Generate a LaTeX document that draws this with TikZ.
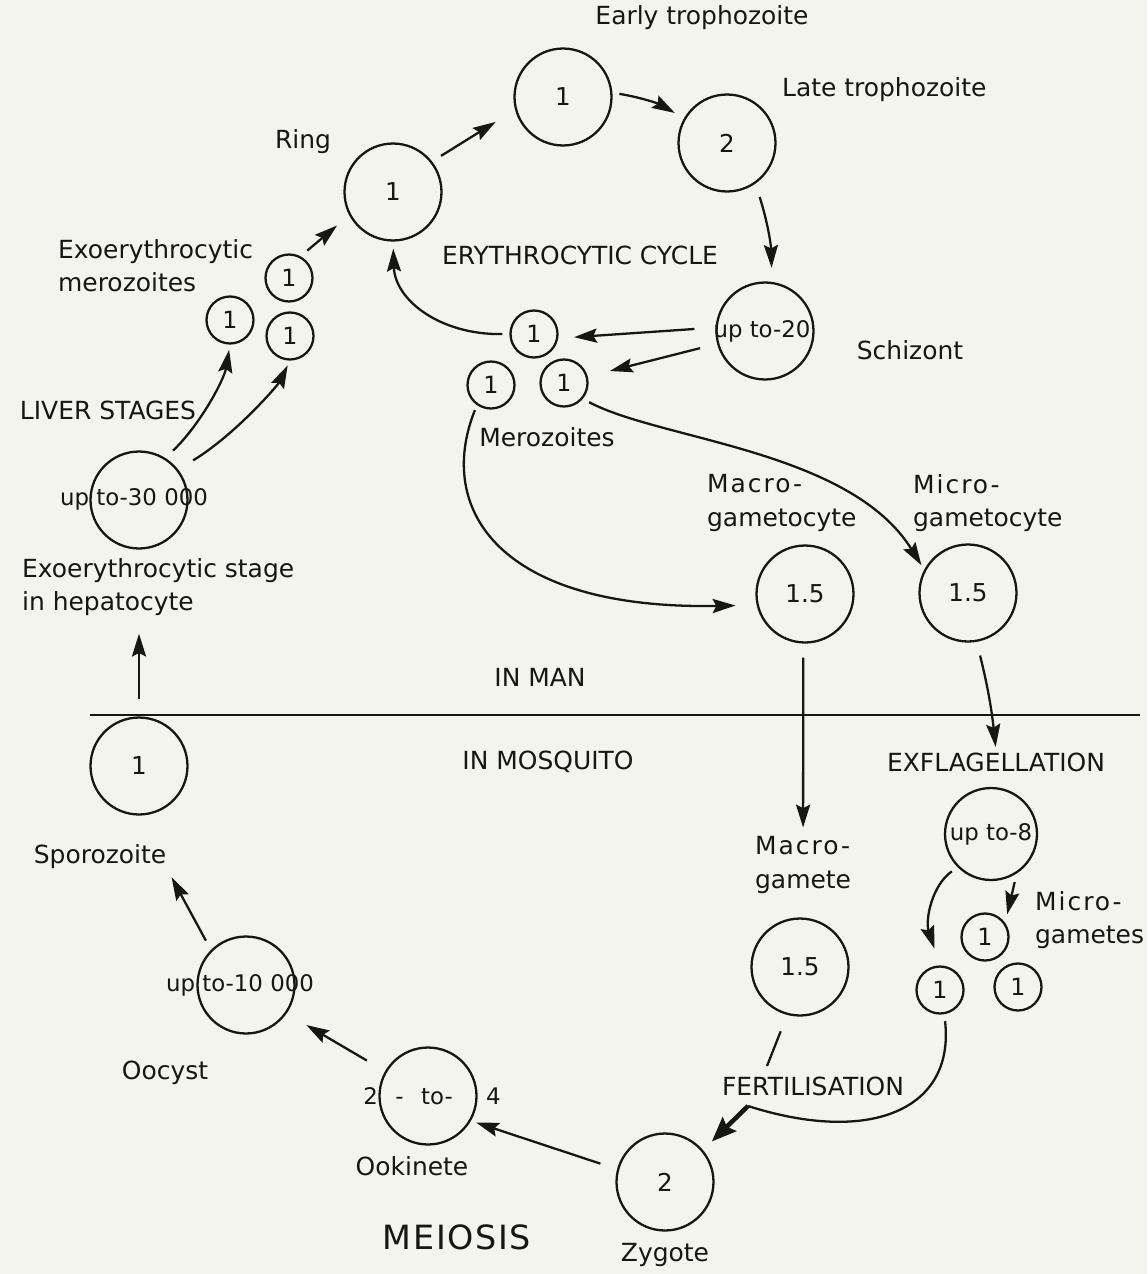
\documentclass[tikz,border=0pt]{standalone}
\usepackage{fontspec}
\setmainfont{DejaVu Sans}
\usepackage{xcolor}
\usetikzlibrary{arrows.meta,positioning,calc}
\definecolor{paper}{RGB}{243,244,238}
\definecolor{ink}{RGB}{22,22,18}
\newcommand{\tracked}[1]{{\addfontfeatures{LetterSpace=8}#1}}

\begin{document}
\begin{tikzpicture}[x=0.02cm, y=-0.02cm,
    cell/.style={circle, draw=ink, line width=1.3pt, minimum size=1.94cm, inner sep=0pt, text=ink, font=\fontsize{14}{16}\selectfont},
    small/.style={circle, draw=ink, line width=1.3pt, minimum size=0.94cm, inner sep=0pt, text=ink, font=\fontsize{13.5}{15}\selectfont},
    count/.style={inner sep=0pt, text=ink, font=\fontsize{13}{15}\selectfont},
    stage/.style={inner sep=1pt, text=ink, align=left, font=\fontsize{14.2}{19}\selectfont},
    arrow/.style={-{Stealth[length=13pt, width=8pt, inset=2pt]}, line width=1.3pt, draw=ink},
    plain/.style={line width=1.3pt, draw=ink}
]
    % paper
    \fill[paper] (0,0) rectangle (1147,1274);

    % Erythrocytic cycle
    \node[cell] (ring) at (393,192) {1};
    \node[cell] (early) at (563,97) {1};
    \node[cell] (late) at (727,143) {2};
    \node[cell] (schiz) at (765,331) {};
    \node[count] (schizN) at (762,331) {up to-20};
    \node[small] (mzA) at (534,334) {1};
    \node[small] (mzB) at (491,385) {1};
    \node[small] (mzC) at (564,383) {1};

    % Liver stages
    \node[small] (exoA) at (289,278) {1};
    \node[small] (exoB) at (230,320) {1};
    \node[small] (exoC) at (290,336) {1};
    \node[cell] (liver) at (139,500) {};
    \node[count] (liverN) at (134,499) {up to-30 000};

    % Gametocytes
    \node[cell] (macGc) at (805,594) {1.5};
    \node[cell] (micGc) at (968,593) {1.5};

    % Mosquito stages
    \node[cell] (spor) at (139,766) {1};
    \node[cell] (oocyst) at (246,985) {};
    \node[count] (oocystN) at (240,985) {up to-10 000};
    \node[cell] (ookin) at (428,1096) {};
    \node[count] (ookinN) at (432,1096) {2\hspace{10pt}-\hspace{10pt}to-\hspace{19pt}4};
    \node[cell] (zyg) at (665,1182) {2};
    \node[cell] (macG) at (800,967) {1.5};
    \node[cell, minimum size=1.84cm] (exfl) at (991,834) {};
    \node[count] (exflN) at (991,834) {up to-8};
    \node[small] (mgA) at (985,937) {1};
    \node[small] (mgB) at (940,990) {1};
    \node[small] (mgC) at (1018,987) {1};

    % Labels
    \node[stage] (tEarly) at (702,18) {Early trophozoite};
    \node[stage, anchor=west] (tLate) at (780,90) {Late trophozoite};
    \node[stage] (tRing) at (303,142) {Ring};
    \node[stage] (tCycle) at (580,255) {ERYTHROCYTIC CYCLE};
    \node[stage, anchor=west] (tExoMz) at (56,266) {Exoerythrocytic\\merozoites};
    \node[stage] (tSchiz) at (910,350) {Schizont};
    \node[stage] (tMz) at (547,437) {Merozoites};
    \node[stage] (tLiver) at (108,410) {LIVER STAGES};
    \node[stage, anchor=west] (tHep) at (20,587) {Exoerythrocytic stage\\in hepatocyte};
    \node[stage] (tMan) at (540,677) {IN MAN};
    \node[stage] (tMosq) at (548,762) {IN MOSQUITO};
    \node[stage, anchor=west] (tMacGc) at (705,503) {\tracked{Macro-}\\gametocyte};
    \node[stage, anchor=west] (tMicGc) at (911,503) {\tracked{Micro-}\\gametocyte};
    \node[stage] (tExfl) at (996,762) {EXFLAGELLATION};
    \node[stage, anchor=west] (tMacG) at (753,865) {\tracked{Macro-}\\gamete};
    \node[stage, anchor=west] (tMicG) at (1033,920) {\tracked{Micro-}\\gametes};
    \node[stage] (tFert) at (813,1086) {FERTILISATION};
    \node[stage] (tSpor) at (100,857) {Sporozoite};
    \node[stage] (tOocyst) at (165,1073) {Oocyst};
    \node[stage] (tOokin) at (412,1166) {Ookinete};
    \node[stage, font=\fontsize{19}{22}\selectfont\addfontfeatures{LetterSpace=5}] (tMeiosis) at (457,1237) {MEIOSIS};
    \node[stage] (tZyg) at (665,1255) {Zygote};

    % Man / mosquito border
    \coordinate (divL) at (90,715);
    \coordinate (divR) at (1140,715);
    \draw[plain] (divL) -- (divR);

    % Liver to blood
    \draw[arrow, shorten <=6pt, shorten >=3pt] (liver.58) .. controls (200,425) and (224,380) .. (exoB.south);
    \draw[arrow, shorten <=10pt, shorten >=3pt] (liver.38) .. controls (235,435) and (278,385) .. (exoC.south);
    \draw[arrow, shorten <=5pt, shorten >=9pt] (exoA.62) -- (ring.208);

    % Erythrocytic cycle arrows
    \draw[arrow, shorten <=6pt, shorten >=13pt] (ring.38) -- (early.195);
    \draw[arrow, shorten <=4pt, shorten >=6pt] (early.5) to[bend left=10] (late.150);
    \draw[arrow, shorten <=8pt, shorten >=8pt] (late.-55) to[bend left=8] (schiz.82);
    \draw[arrow, shorten <=12pt, shorten >=9pt] (schiz.176) -- (mzA.-10);
    \draw[arrow, shorten <=10pt, shorten >=13pt] (schiz.195) -- (mzC.15);
    \draw[arrow, shorten <=4pt, shorten >=4pt] (mzA.west) .. controls (440,335) and (395,300) .. (ring.south);

    % Merozoites to gametocytes
    \draw[arrow, shorten <=3pt, shorten >=12pt] (mzB.235) .. controls (435,510) and (500,610) .. (macGc.193);
    \draw[arrow, shorten <=4pt, shorten >=3pt] (mzC.-40) .. controls (660,440) and (850,450) .. (micGc.152);

    % Into the mosquito
    \draw[arrow, shorten <=8pt, shorten >=4pt] (macGc.-92) -- (tMacG.north);
    \draw[arrow, shorten <=8pt, shorten >=2pt] (micGc.-80) to[bend left=4] (tExfl.north);
    \draw[arrow, shorten <=4pt, shorten >=10pt] (exfl.225) .. controls (932,885) and (925,920) .. (mgB.north);
    \draw[arrow, shorten <=5pt, shorten >=5pt] (exfl.-57) -- (mgA.35);

    % Fertilisation
    \coordinate (fertTop) at (767,1066);
    \coordinate (fuse) at (748,1106);
    \draw[plain, shorten <=10pt] (macG.-105) -- (fertTop);
    \draw[plain, shorten <=4pt] (mgB.-80) .. controls (955,1110) and (870,1145) .. (fuse);
    \draw[arrow, line width=2.6pt, -{Stealth[length=14pt, width=11pt, inset=2pt]}, shorten >=7pt] (fuse) -- (zyg.40);

    % Sporogony
    \draw[arrow, shorten <=10pt, shorten >=3pt] (zyg.165) -- (ookin.-30);
    \draw[arrow, shorten <=12pt, shorten >=13pt] (ookin.150) -- (oocyst.-35);
    \draw[arrow, shorten <=6pt, shorten >=4pt] (oocyst.135) -- (tSpor.south east);
    \draw[arrow, shorten <=10pt, shorten >=9pt] (spor.north) -- (tHep.south -| spor.north);
\end{tikzpicture}
\end{document}
